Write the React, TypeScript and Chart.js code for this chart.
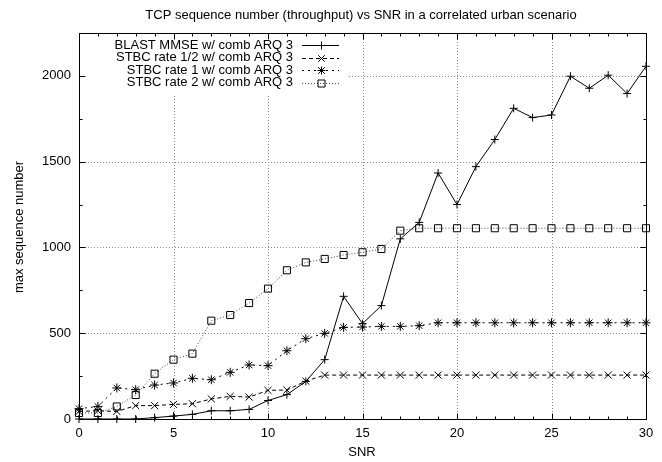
import React, { useEffect, useRef } from 'react';
import { Chart, registerables } from 'chart.js';

Chart.register(...registerables);

const snr = [0, 1, 2, 3, 4, 5, 6, 7, 8, 9, 10, 11, 12, 13, 14, 15, 16, 17, 18, 19, 20, 21, 22, 23, 24, 25, 26, 27, 28, 29, 30];
const blastMmse = [0, 0, 0, 0, 8, 17, 27, 48, 48, 56, 108, 142, 219, 346, 715, 556, 661, 1050, 1146, 1434, 1250, 1471, 1629, 1811, 1757, 1772, 1998, 1928, 2004, 1897, 2056];
const stbcHalf = [44, 48, 44, 78, 78, 85, 89, 117, 132, 128, 167, 169, 221, 256, 256, 256, 256, 256, 256, 256, 256, 256, 256, 256, 256, 256, 256, 256, 256, 256, 256];
const stbcOne = [60, 73, 181, 171, 198, 210, 237, 229, 272, 315, 311, 398, 468, 499, 534, 536, 540, 540, 544, 561, 561, 561, 561, 561, 561, 561, 561, 561, 561, 561, 561];
const stbcTwo = [35, 35, 73, 140, 264, 346, 381, 573, 606, 676, 760, 867, 913, 933, 956, 972, 991, 1098, 1112, 1112, 1112, 1112, 1112, 1112, 1112, 1112, 1112, 1112, 1112, 1112, 1112];

const seriesLabels = [
  'BLAST MMSE w/ comb ARQ 3',
  'STBC rate 1/2 w/ comb ARQ 3',
  'STBC rate 1 w/ comb ARQ 3',
  'STBC rate 2 w/ comb ARQ 3',
];
const xTicks = [0, 5, 10, 15, 20, 25, 30];
const yTicks = [0, 500, 1000, 1500, 2000];
const xMinor = snr;
const yMinor = [0, 250, 500, 750, 1000, 1250, 1500, 1750, 2000, 2250];
const titleText = 'TCP sequence number (throughput) vs SNR in a correlated urban scenario';
const xTitle = 'SNR';
const yTitle = 'max sequence number';

const FONT = '"Liberation Sans", Arial, Helvetica, sans-serif';

const styles = [
  { dash: [] as number[], marker: 'cross', radius: 4, color: '#000' },
  { dash: [4, 3], marker: 'crossRot', radius: 5, color: '#000' },
  { dash: [2, 4], marker: 'star', radius: 4.5, color: '#000' },
  { dash: [1, 2], marker: 'rect', radius: 5, color: '#444' },
];

function drawMarker(ctx: CanvasRenderingContext2D, kind: string, x: number, y: number) {
  ctx.beginPath();
  if (kind === 'cross' || kind === 'star') {
    const r = 4;
    ctx.moveTo(x - r, y); ctx.lineTo(x + r, y);
    ctx.moveTo(x, y - r); ctx.lineTo(x, y + r);
  }
  if (kind === 'crossRot' || kind === 'star') {
    const d = 3.3;
    ctx.moveTo(x - d, y - d); ctx.lineTo(x + d, y + d);
    ctx.moveTo(x - d, y + d); ctx.lineTo(x + d, y - d);
  }
  if (kind === 'rect') {
    ctx.rect(x - 3.5, y - 3.5, 7, 7);
  }
  ctx.stroke();
}

const LEG_TEXT_X = 293;
const LEG_S0 = 302;
const LEG_S1 = 339;
const LEG_Y0 = 45;
const LEG_DY = 12.5;

const gnuplotPlugin = {
  id: 'gnuplotStyle',
  beforeDatasetsDraw(chart: any) {
    const { ctx, chartArea: ca, scales } = chart;
    const x = scales.x, y = scales.y;
    ctx.save();
    ctx.strokeStyle = '#888';
    ctx.lineWidth = 1;
    ctx.setLineDash([1, 2]);
    xTicks.forEach((v) => {
      if (v === xTicks[0] || v === xTicks[xTicks.length - 1]) return;
      const px = Math.round(x.getPixelForValue(v)) + 0.5;
      ctx.beginPath(); ctx.moveTo(px, ca.top); ctx.lineTo(px, ca.bottom); ctx.stroke();
    });
    yTicks.forEach((v) => {
      if (v === 0) return;
      const py = Math.round(y.getPixelForValue(v)) + 0.5;
      ctx.beginPath(); ctx.moveTo(ca.left, py); ctx.lineTo(ca.right, py); ctx.stroke();
    });
    ctx.setLineDash([]);
    // blank the key area like gnuplot does
    ctx.fillStyle = '#fff';
    ctx.fillRect(ca.left + 1, ca.top + 1, LEG_S1 + 7 - ca.left, LEG_Y0 + LEG_DY * 3 + 11 - ca.top);
    ctx.restore();
  },
  afterDraw(chart: any) {
    const { ctx, chartArea: ca, scales } = chart;
    const x = scales.x, y = scales.y;
    const L = Math.round(ca.left) + 0.5, R = Math.round(ca.right) + 0.5;
    const T = Math.round(ca.top) + 0.5, B = Math.round(ca.bottom) + 0.5;
    ctx.save();
    ctx.strokeStyle = '#000';
    ctx.lineWidth = 1;
    ctx.setLineDash([]);
    ctx.strokeRect(L, T, R - L, B - T);
    // ticks
    ctx.beginPath();
    xMinor.forEach((v) => {
      const px = Math.round(x.getPixelForValue(v)) + 0.5;
      const len = xTicks.includes(v) ? 6 : 3;
      ctx.moveTo(px, B); ctx.lineTo(px, B - len);
      ctx.moveTo(px, T); ctx.lineTo(px, T + len);
    });
    yMinor.forEach((v) => {
      const py = Math.round(y.getPixelForValue(v)) + 0.5;
      const len = yTicks.includes(v) ? 6 : 3;
      ctx.moveTo(L, py); ctx.lineTo(L + len, py);
      ctx.moveTo(R, py); ctx.lineTo(R - len, py);
    });
    ctx.stroke();

    ctx.fillStyle = '#000';
    ctx.font = `13px ${FONT}`;
    ctx.textAlign = 'center';
    ctx.textBaseline = 'middle';
    ctx.fillText(titleText, 361, 15);
    ctx.fillText(xTitle, 362, 452);
    ctx.save();
    ctx.translate(19, 227);
    ctx.rotate(-Math.PI / 2);
    ctx.fillText(yTitle, 0, 0);
    ctx.restore();

    // legend
    seriesLabels.forEach((lab, i) => {
      const st = styles[i];
      const yy = LEG_Y0 + i * LEG_DY;
      ctx.fillStyle = '#000';
      ctx.textAlign = 'right';
      ctx.fillText(lab, LEG_TEXT_X, yy);
      const ly = Math.round(yy) + 0.5;
      ctx.strokeStyle = st.color;
      ctx.setLineDash(st.dash);
      ctx.beginPath(); ctx.moveTo(LEG_S0, ly); ctx.lineTo(LEG_S1, ly); ctx.stroke();
      ctx.setLineDash([]);
      ctx.strokeStyle = '#000';
      drawMarker(ctx, st.marker, Math.round((LEG_S0 + LEG_S1) / 2) + 0.5, ly);
    });
    ctx.restore();
  },
};

export default function App() {
  const ref = useRef<HTMLCanvasElement | null>(null);
  useEffect(() => {
    if (!ref.current) return;
    const seriesData = [blastMmse, stbcHalf, stbcOne, stbcTwo];
    const chart = new Chart(ref.current, {
      type: 'line',
      data: {
        datasets: seriesData.map((arr, i) => ({
          label: seriesLabels[i],
          data: snr.map((s, j) => ({ x: s, y: arr[j] })),
          borderColor: styles[i].color,
          borderWidth: 1,
          borderDash: styles[i].dash,
          pointStyle: styles[i].marker as any,
          pointRadius: styles[i].radius,
          pointBorderColor: '#000',
          pointBackgroundColor: 'rgba(0,0,0,0)',
          pointBorderWidth: 1,
          tension: 0,
          fill: false,
          clip: false as any,
        })),
      },
      options: {
        animation: false,
        responsive: false,
        maintainAspectRatio: false,
        events: [],
        layout: { padding: { top: 33, right: 16, left: 0, bottom: 0 } },
        plugins: { legend: { display: false }, title: { display: false }, tooltip: { enabled: false } },
        scales: {
          x: {
            type: 'linear',
            min: 0,
            max: 30,
            grid: { display: false, drawTicks: false },
            border: { display: false },
            afterBuildTicks: (s: any) => { s.ticks = xTicks.map((v) => ({ value: v })); },
            afterFit: (s: any) => { s.height = 43; },
            ticks: { color: '#000', padding: 7, font: { family: FONT, size: 13 }, maxRotation: 0, autoSkip: false, callback: (v: any) => String(v) },
          },
          y: {
            type: 'linear',
            min: 0,
            max: 2250,
            grid: { display: false, drawTicks: false },
            border: { display: false },
            afterBuildTicks: (s: any) => { s.ticks = yTicks.map((v) => ({ value: v })); },
            afterFit: (s: any) => { s.width = 79; },
            ticks: { color: '#000', padding: 8, font: { family: FONT, size: 13 }, autoSkip: false, callback: (v: any) => String(v) },
          },
        },
      },
      plugins: [gnuplotPlugin],
    });
    return () => chart.destroy();
  }, []);
  return (
    <div style={{ position: 'absolute', left: 0, top: 0, width: 662, height: 462, background: '#fff' }}>
      <canvas ref={ref} width={662} height={462} style={{ width: 662, height: 462, display: 'block' }} />
    </div>
  );
}
